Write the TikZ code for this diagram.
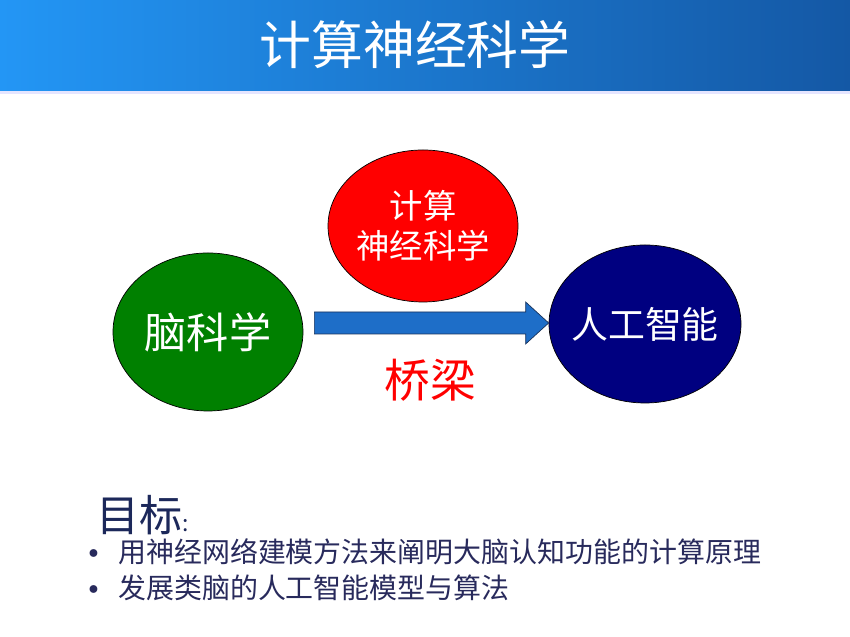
\documentclass[tikz,border=0pt]{standalone}
\usepackage{fontspec}
\newfontfamily\cjk{Noto Sans CJK SC}
\usepackage{tikz}
\usetikzlibrary{calc,positioning,shapes.geometric}
\definecolor{barlight}{RGB}{35,150,245}
\definecolor{barmid}{RGB}{30,128,222}
\definecolor{bardark}{RGB}{20,88,165}
\definecolor{brainfill}{RGB}{0,128,0}
\definecolor{aifill}{RGB}{0,0,128}
\definecolor{arrowblue}{RGB}{30,110,200}
\definecolor{arrowedge}{RGB}{25,50,90}
\definecolor{goalnavy}{RGB}{28,40,90}
\definecolor{itemnavy}{RGB}{40,42,92}

\begin{document}
\begin{tikzpicture}[
		blob/.style={ellipse, draw=black, thin, inner sep=0pt},
		blobtext/.style={text=white, align=center, inner sep=0pt},
		goaltext/.style={anchor=west, text=itemnavy, font=\cjk\fontsize{15.9}{19}\selectfont, inner sep=0pt},
		goaldot/.style={text=itemnavy, font=\cjk\fontsize{21}{21}\selectfont, inner sep=0pt}
	]
		\useasboundingbox (0,0) rectangle (17,12.74);
		\fill[white] (0,0) rectangle (17,12.74);
		
		% title bar
		\shade[left color=barlight, middle color=barmid, right color=bardark] (0,10.92) rectangle (17,12.74);
		\fill[blue!10] (0,10.86) rectangle (17,10.92);
		\node[text=white, font=\cjk\fontsize{29.5}{34}\selectfont] (title) at (8.3,11.84) {计算神经科学};
		
		% three fields
		\node[blob, fill=brainfill, minimum width=3.8cm, minimum height=3.16cm,
			label={[blobtext, font=\cjk\fontsize{24}{28}\selectfont]center:脑科学}] (brain) at (4.16,6.10) {};
		\node[blob, fill=red, minimum width=3.8cm, minimum height=3.04cm,
			label={[blobtext, font=\cjk\fontsize{19}{23}\selectfont]center:计算\\神经科学}] (cns) at (8.46,8.22) {};
		\node[blob, fill=aifill, minimum width=3.84cm, minimum height=3.16cm,
			label={[blobtext, font=\cjk\fontsize{21}{25}\selectfont]center:人工智能}] (ai) at (12.9,6.26) {};
		
		% bridge arrow
		\coordinate (tail) at ($(brain.east)+(0.22,0.18)$);
		\coordinate (tip) at (ai.west |- tail);
		\filldraw[fill=arrowblue, draw=arrowedge, line join=miter]
			($(tail)+(0,0.22)$) -- ($(tip)+(-0.46,0.22)$) -- ++(0,0.2) -- (tip)
			-- ($(tip)+(-0.46,-0.42)$) -- ++(0,0.2) -- ($(tail)+(0,-0.22)$) -- cycle;
		\node[text=red, font=\cjk\fontsize{26}{30}\selectfont] (bridge) at (8.6,5.14) {桥梁};
		
		% goals
		\node[anchor=west, text=goalnavy, inner sep=0pt] (goal) at (1.92,2.44)
			{\cjk\fontsize{24.5}{28}\selectfont 目标\fontsize{13}{15}\selectfont:};
		\node[goaldot] (dot1) at (1.88,1.57) {•};
		\node[goaltext] (item1) at (2.36,1.70) {用神经网络建模方法来阐明大脑认知功能的计算原理};
		\node[goaldot] (dot2) at (1.88,0.85) {•};
		\node[goaltext] (item2) at (2.36,0.98) {发展类脑的人工智能模型与算法};
	\end{tikzpicture}
\end{document}
